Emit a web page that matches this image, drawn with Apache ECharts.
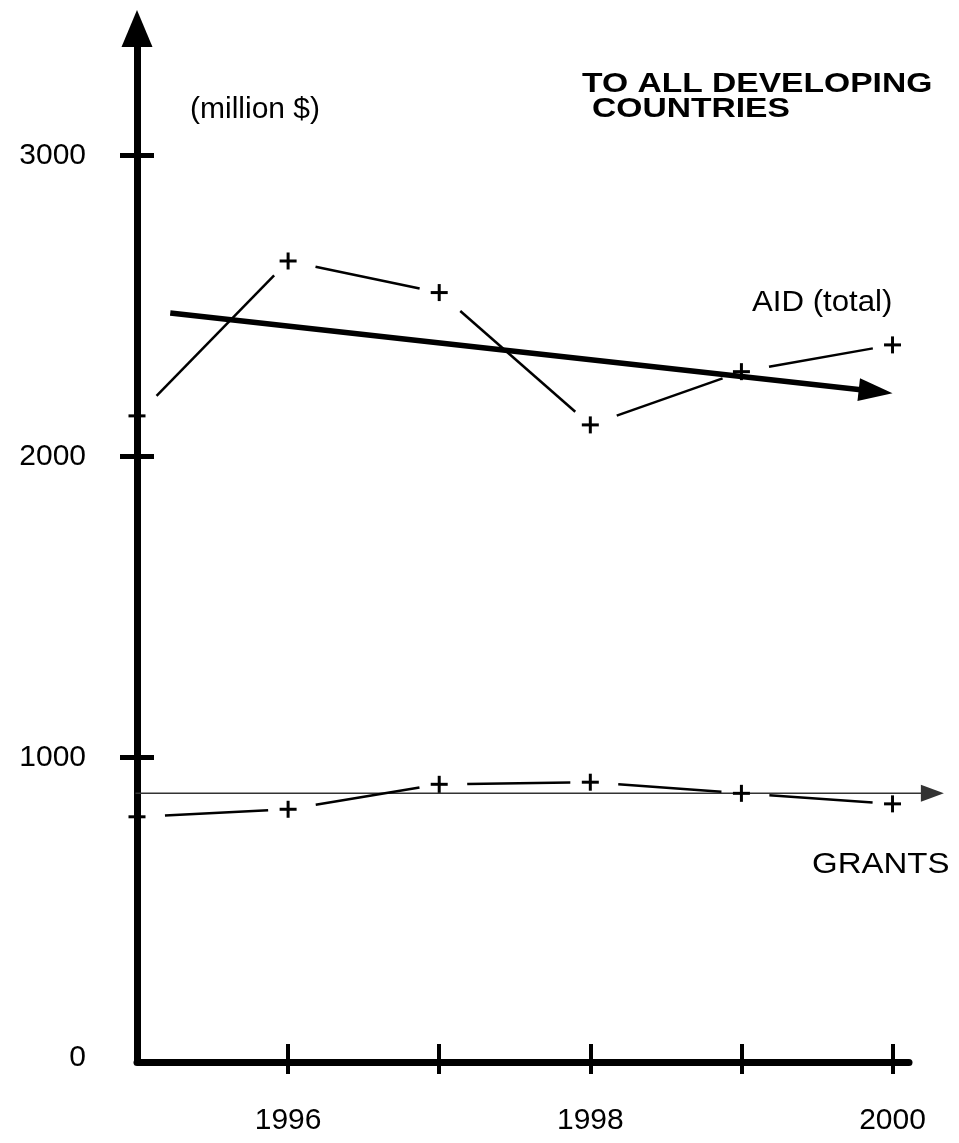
<!DOCTYPE html>
<html><head><meta charset="utf-8">
<script src="https://cdn.jsdelivr.net/npm/echarts@6/dist/echarts.min.js"></script>
<style>html,body{margin:0;padding:0;background:#fff}#c{width:959px;height:1143px}</style>
</head><body><div id="c"></div>
<script>
const years = [1995, 1996, 1997, 1998, 1999, 2000];
const aidTotal = [2135, 2650, 2545, 2105, 2282, 2371];
const grants = [802, 827, 910, 917, 880, 845];
const aidTrend = [[1995.22, 2477], [2000.0, 2210]];
const grantTrend = [[1994.99, 880], [2000.34, 880]];
const xTickValues = [1996, 1997, 1998, 1999, 2000];
const xLabelValues = [1996, 1998, 2000];
const yTickValues = [1000, 2000, 3000];
const yLabelValues = [0, 1000, 2000, 3000];
const xMin = 1995, xMax = 2000.109, yMin = 0, yMax = 3423;

const FONT = "'Liberation Sans', Arial, Helvetica, sans-serif";

function seriesRenderer(vals, gapStart, gapEnd) {
  return function (params, api) {
    const i = params.dataIndex;
    const p = api.coord([years[i], vals[i]]);
    const s = 8.5;
    const children = [
      { type: 'line', shape: { x1: p[0] - s, y1: p[1], x2: p[0] + s, y2: p[1] }, style: { stroke: '#000', lineWidth: 3 } },
      { type: 'line', shape: { x1: p[0], y1: p[1] - s, x2: p[0], y2: p[1] + s }, style: { stroke: '#000', lineWidth: 3 } }
    ];
    if (i < years.length - 1) {
      const q = api.coord([years[i + 1], vals[i + 1]]);
      const dx = q[0] - p[0], dy = q[1] - p[1], L = Math.hypot(dx, dy);
      const ux = dx / L, uy = dy / L;
      children.push({ type: 'line', shape: { x1: p[0] + ux * gapStart, y1: p[1] + uy * gapStart, x2: q[0] - ux * gapEnd, y2: q[1] - uy * gapEnd }, style: { stroke: '#000', lineWidth: 2.5 } });
    }
    return { type: 'group', children: children };
  };
}

function trendRenderer(pts, lw, headLen, headW, color) {
  return function (params, api) {
    if (params.dataIndex !== 0) return { type: 'group', children: [] };
    const a = api.coord(pts[0]), b = api.coord(pts[1]);
    const dx = b[0] - a[0], dy = b[1] - a[1], L = Math.hypot(dx, dy);
    const ux = dx / L, uy = dy / L, nx = -uy, ny = ux;
    const bx = b[0] - ux * headLen, by = b[1] - uy * headLen;
    return {
      type: 'group', children: [
        { type: 'line', shape: { x1: a[0], y1: a[1], x2: bx + ux * 2, y2: by + uy * 2 }, style: { stroke: color, lineWidth: lw } },
        { type: 'polygon', shape: { points: [[b[0], b[1]], [bx + nx * headW / 2, by + ny * headW / 2], [bx - nx * headW / 2, by - ny * headW / 2]] }, style: { fill: color } }
      ]
    };
  };
}

const chart = echarts.init(document.getElementById('c'), null, { renderer: 'canvas' });
const fmt = v => String(Math.round(v));
chart.setOption({
  animation: false,
  backgroundColor: '#fff',
  grid: { left: 137, right: 50, top: 28.5, bottom: 85, containLabel: false },
  xAxis: [
    {
      type: 'value', min: xMin, max: xMax, position: 'bottom', offset: 4,
      axisLine: { show: true, onZero: false, lineStyle: { color: '#000', width: 7 } },
      axisTick: { show: true, customValues: xTickValues, length: 12, inside: false, lineStyle: { color: '#000', width: 4 } },
      axisLabel: { show: true, customValues: xLabelValues, margin: 44, color: '#000', fontSize: 30, fontFamily: FONT, formatter: fmt },
      splitLine: { show: false }
    },
    {
      type: 'value', min: xMin, max: xMax, position: 'bottom', offset: 4,
      axisLine: { show: false, onZero: false },
      axisTick: { show: true, customValues: xTickValues, length: 18, inside: true, lineStyle: { color: '#000', width: 4 } },
      axisLabel: { show: false },
      splitLine: { show: false }
    }
  ],
  yAxis: [
    {
      type: 'value', min: yMin, max: yMax, position: 'left',
      axisLine: { show: true, onZero: false, symbol: ['none', 'triangle'], symbolSize: [31, 37], lineStyle: { color: '#000', width: 7, cap: 'square' } },
      axisTick: { show: true, customValues: yTickValues, length: 17, inside: false, lineStyle: { color: '#000', width: 5 } },
      axisLabel: { show: true, customValues: yLabelValues, margin: 51, color: '#000', fontSize: 30, fontFamily: FONT, formatter: fmt },
      splitLine: { show: false }
    },
    {
      type: 'value', min: yMin, max: yMax, position: 'left',
      axisLine: { show: false, onZero: false },
      axisTick: { show: true, customValues: yTickValues, length: 17, inside: true, lineStyle: { color: '#000', width: 5 } },
      axisLabel: { show: false },
      splitLine: { show: false }
    }
  ],
  graphic: [
    { type: 'text', x: 190, y: 110, style: { text: '(million $)', font: '30px ' + FONT, fill: '#000', align: 'left', verticalAlign: 'middle' } },
    { type: 'text', x: 582, y: 84, scaleX: 1.2, style: { text: 'TO ALL DEVELOPING', font: 'bold 28px ' + FONT, fill: '#000', align: 'left', verticalAlign: 'middle' } },
    { type: 'text', x: 592, y: 109, scaleX: 1.2, style: { text: 'COUNTRIES', font: 'bold 28px ' + FONT, fill: '#000', align: 'left', verticalAlign: 'middle' } },
    { type: 'text', x: 752, y: 303, scaleX: 1.04, style: { text: 'AID (total)', font: '30px ' + FONT, fill: '#000', align: 'left', verticalAlign: 'middle' } },
    { type: 'text', x: 812, y: 865, scaleX: 1.1, style: { text: 'GRANTS', font: '30px ' + FONT, fill: '#000', align: 'left', verticalAlign: 'middle' } }
  ],
  series: [
    { name: 'AID (total)', type: 'custom', xAxisIndex: 0, yAxisIndex: 0, clip: false, renderItem: seriesRenderer(aidTotal, 28, 20), data: years.map((y, i) => [y, aidTotal[i]]), z: 3 },
    { name: 'GRANTS', type: 'custom', xAxisIndex: 0, yAxisIndex: 0, clip: false, renderItem: seriesRenderer(grants, 28, 20), data: years.map((y, i) => [y, grants[i]]), z: 3 },
    { name: 'AID trend', type: 'custom', xAxisIndex: 0, yAxisIndex: 0, clip: false, renderItem: trendRenderer(aidTrend, 5.5, 34, 23, '#000'), data: aidTrend, z: 4 },
    { name: 'GRANTS trend', type: 'custom', xAxisIndex: 0, yAxisIndex: 0, clip: false, renderItem: trendRenderer(grantTrend, 1.5, 23, 17, '#333'), data: grantTrend, z: 2 }
  ]
});
</script>
</body></html>
